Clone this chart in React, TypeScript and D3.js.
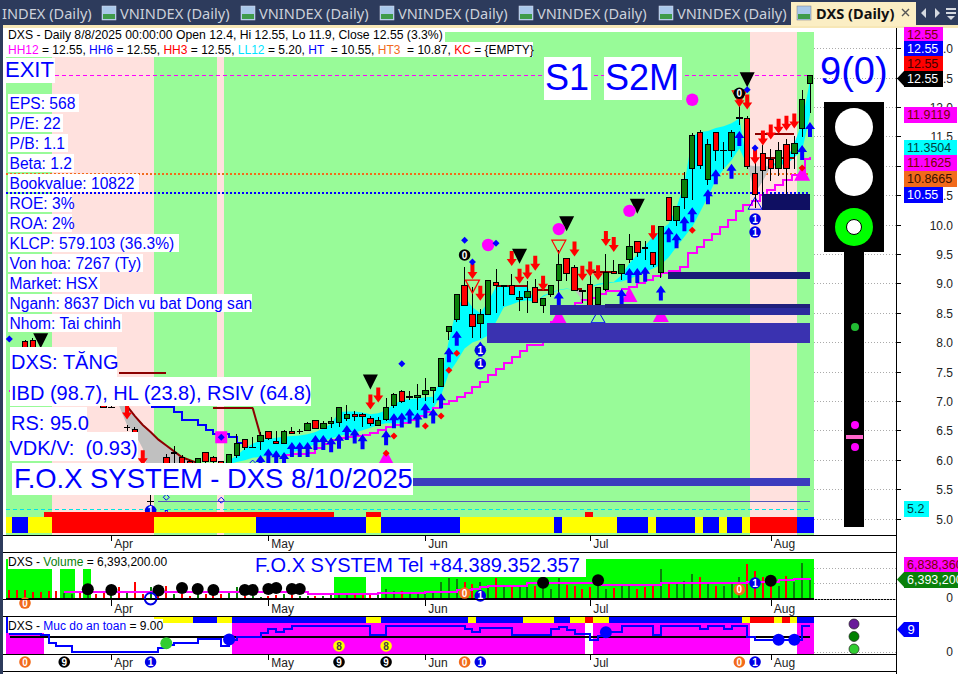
import * as d3 from "d3";
import React from "react";

const FONT = "Liberation Sans, Arial, sans-serif";
const WIDTH = 958;
const HEIGHT = 674;

// price candles, bar 0 .. 100
const opens = [8.02,8.04,7.8,7.5,7.4,7.2,7.35,7.45,7.25,7.3,7.1,6.9,6.95,6.56,6.52,5.9,5.3,5.9,6.04,6.13,6.04,5.97,5.95,6.13,6.05,5.97,5.95,6.08,6.36,6.22,6.32,6.49,6.32,6.29,6.49,6.49,6.5,6.68,6.54,6.62,6.64,6.71,6.78,6.77,6.71,6.59,6.7,6.93,7.17,7.06,7.07,7.11,7.18,7.25,8.19,8.39,8.97,8.48,8.33,8.48,9.03,8.97,8.97,8.73,8.77,8.93,8.63,8.82,9.05,9.43,9.28,8.89,8.99,8.65,8.91,9.21,9.18,9.42,9.72,9.62,9.54,9.19,10.47,10.07,10.47,10.96,11.58,10.77,11.58,11.27,11.26,11.82,11.81,10.88,11.22,11.12,10.96,11.37,11.21,11.64,12.4];
const highs = [8.05,8.08,7.85,7.6,7.5,7.45,7.5,7.5,7.4,7.35,7.15,6.92,6.97,6.6,6.56,5.93,5.5,5.93,6.1,6.25,6.08,6.0,6.03,6.13,6.07,5.99,6.09,6.45,6.36,6.4,6.48,6.49,6.49,6.52,6.56,6.53,6.65,6.68,6.66,6.74,6.91,6.94,6.83,6.8,6.76,6.74,7.05,7.15,7.2,7.17,7.3,7.39,7.24,7.73,8.28,8.83,9.29,8.95,8.57,9.05,9.25,8.97,9.16,8.87,9.04,9.08,8.75,8.97,9.57,9.43,9.32,8.89,9.2,8.93,9.5,9.4,9.33,9.85,9.72,9.72,9.54,9.98,10.47,10.32,10.9,11.56,11.62,11.46,11.58,11.42,11.62,12.18,11.85,11.15,11.36,11.3,11.42,11.46,11.51,12.3,12.55];
const lows = [7.5,7.6,7.4,7.3,7.2,7.1,7.2,7.2,7.15,7.05,6.93,6.88,6.93,6.5,6.3,5.6,5.2,5.45,5.75,5.9,5.85,5.7,5.85,5.85,5.85,5.85,5.8,6.03,6.17,6.22,6.17,6.35,6.29,6.29,6.45,6.45,6.49,6.54,6.54,6.54,6.57,6.66,6.66,6.57,6.58,6.59,6.66,6.88,6.97,7.02,6.85,7.0,6.97,7.25,8.04,8.35,8.63,8.07,8.07,8.48,8.5,8.63,8.82,8.54,8.5,8.67,8.5,8.78,8.72,9.04,8.89,8.67,8.61,8.61,8.87,9.17,9.07,9.35,9.45,9.4,9.28,9.1,10.07,9.98,10.27,10.43,10.96,10.68,11.08,10.96,11.16,11.7,10.95,10.29,10.53,10.74,10.83,10.53,10.96,11.49,11.9];
const closes = [7.7,7.8,7.5,7.35,7.3,7.4,7.45,7.3,7.35,7.1,6.9,6.9,6.94,6.56,6.38,5.65,5.3,5.5,5.8,6.13,5.95,5.8,6.03,5.97,5.97,5.89,6.09,6.29,6.22,6.22,6.42,6.37,6.29,6.49,6.46,6.49,6.62,6.54,6.62,6.65,6.9,6.78,6.75,6.75,6.63,6.68,6.9,7.11,7.0,7.09,7.1,7.18,7.24,7.73,8.27,8.82,8.63,8.27,8.48,9.05,8.97,8.97,8.82,8.77,8.87,8.69,8.75,8.97,9.33,9.18,8.89,8.87,8.63,8.93,9.2,9.17,9.33,9.63,9.54,9.6,9.32,9.98,10.07,10.32,10.78,11.52,11.01,11.37,11.26,11.27,11.58,11.82,11.0,10.52,10.92,10.96,11.27,10.96,11.38,12.13,12.55];

// the two envelope lines, bar 12 .. 100 (cyan where upper is above, grey where it is below)
const bandFirstBar = 12;
const bandUpper = [6.92,6.6,6.45,6.2,5.6,5.4,5.5,5.6,5.7,5.8,5.88,5.9,5.9,5.92,6.0,6.08,6.2,6.28,6.34,6.36,6.38,6.4,6.41,6.42,6.44,6.48,6.54,6.62,6.82,6.83,6.83,6.81,6.78,6.8,6.85,6.95,7.02,7.04,7.05,7.07,7.08,7.4,8.04,8.6,8.78,8.6,8.5,8.7,8.95,8.97,8.97,8.97,8.95,8.68,8.8,8.85,8.9,8.92,8.9,8.72,8.95,9.0,9.02,9.03,9.15,9.35,9.5,9.65,9.8,9.92,10.02,10.3,10.7,11.5,11.58,11.6,11.65,11.68,11.73,11.81,11.02,10.55,10.75,11.0,11.1,11.12,11.38,11.75,12.46];
const bandLower = [6.92,6.92,6.75,6.6,6.48,6.35,6.25,6.15,6.05,6.0,5.95,5.92,5.9,5.92,5.93,5.97,6.0,6.04,6.06,6.07,6.08,6.09,6.13,6.17,6.22,6.27,6.33,6.37,6.41,6.44,6.47,6.51,6.55,6.6,6.63,6.63,6.63,6.66,6.72,6.8,6.88,7.1,7.48,7.68,7.9,8.0,8.05,8.12,8.35,8.6,8.65,8.7,8.72,8.68,8.78,8.84,8.89,8.91,8.9,8.9,8.94,8.98,9.0,9.02,9.04,9.08,9.14,9.2,9.26,9.32,9.45,9.63,9.8,9.97,10.22,10.48,10.77,10.95,11.1,11.3,11.02,11.0,11.0,11.0,11.03,11.03,11.15,11.27,11.87];

const stairBars = [33,34,36,37,38,39,40,41,42,43,44,45,46,47,48,49,50,51,52,53,54,55,56,57,58,59,60,61,62,63,64,66,67,68,69,70,71,72,73,74,76,77,78,79,80,81,82,83.4,84.5,85.6,86.5,87.5,88.5,89.5,90.6,91.5,92.6,93.6,94.5,95.5,96.6,97.7,99.4,100];
const stairValues = [6.09,6.11,6.13,6.2,6.28,6.34,6.37,6.4,6.42,6.43,6.47,6.52,6.56,6.6,6.64,6.68,6.75,6.82,6.89,6.95,7.0,7.07,7.15,7.25,7.33,7.45,7.55,7.65,7.75,7.85,7.96,8.2,8.35,8.5,8.6,8.67,8.72,8.76,8.82,8.87,8.91,8.95,9.02,9.07,9.13,9.18,9.21,9.29,9.52,9.63,9.75,9.85,9.96,10.09,10.23,10.34,10.41,10.51,10.6,10.68,10.77,10.85,11.13,11.16];
const blueStairBars = [16,19,20,22,23,24,26,27,28];
const blueStairValues = [6.9,6.82,6.68,6.6,6.51,6.44,6.39,6.29,6.29];

const resistFrom = [12,24,60,65,70,72,93,94];
const resistTo = [18,29,64,67,71,75,98,98];
const resistValues = [7.48,6.89,8.96,8.89,8.91,9.2,11.55,11.14];
const resistDropBars = [29,30];
const resistDropValues = [6.89,6.42];

const zoneFrom = [81.9,66.9,73.9,58.9,93.9,40];
const zoneTop = [9.2,8.64,8.66,8.33,10.53,5.7];
const zoneBottom = [9.08,8.47,8.59,7.99,10.26,5.56];
const zoneColors = ["#1a1a78","#2b2b9d","#20207c","#3a32b0","#0f0f62","#3c3cbe"];

const blueUpBars = [30,31,32,33,34,35,36,37,38,39,40,41,42,43,46,47,48,49,50,51,52,53,54,55,58,68,76,77,78,79,81,82,83,84,85,87,88,90,91,99,100];
const blueUpTips = [6.09,6.2,6.17,6.14,6.31,6.31,6.31,6.43,6.43,6.39,6.45,6.6,6.54,6.44,6.51,6.8,6.81,6.88,6.81,6.97,6.88,7.14,7.92,8.2,8.02,8.87,8.91,9.27,9.27,9.29,8.97,9.96,9.86,10.15,10.3,10.61,10.95,11.04,11.6,11.36,11.75];
const redDownBars = [13,15,44,45,57,58,62,63,64,65,66,70,71,72,73,74,75,80,91,92,93,94,95,96,97,98];
const redDownCentres = [6.82,6.04,6.99,7.11,9.21,8.84,9.43,9.13,9.2,9.35,9.01,9.59,9.18,9.25,9.19,9.77,9.67,9.87,12.13,12.09,11.16,11.48,11.58,11.68,11.73,11.77];
const blackTriBars = [2,44,63,69,78,92];
const blackTriValues = [8.03,7.33,9.47,10.02,10.32,12.47];
const redTriBars = [57,68,91];
const redTriValues = [8.96,9.64,12.18];
const pinkTriBars = [46,68,77,81,99];
const pinkTriValues = [6.04,8.44,8.81,8.47,10.87];
const outlineTriBars = [73,93];
const outlineTriValues = [8.44,10.37];
const pinkDotBars = [59,68,77,85];
const pinkDotValues = [9.66,9.93,10.24,12.13];
const blueDiamondBars = [56,57,60,48,-2,93,92,25];
const blueDiamondValues = [9.74,9.37,9.69,7.64,8.06,11.31,12.3,6.39];
const redDiamondBars = [54,55,53,51,47,46,85,99];
const redDiamondValues = [7.53,7.82,6.75,6.58,6.41,6.12,9.91,10.97];
const hollowDiamondBars = [18,25,29];
const hollowDiamondValues = [5.37,5.32,5.95];
const priceBadgeBars = [58,58,93,93,16,56,91];
const priceBadgeValues = [7.87,7.64,10.1,9.88,5.14,9.49,12.24];
const priceBadgeLabels = ["1","1","1","1","1","0","0"];

const priceTicks = [5,5.5,6,6.5,7,7.5,8,8.5,9,9.5,10,10.5,11,11.5,12,12.5,13];
const monthLabels = ["Apr","May","Jun","Jul","Aug"];
const monthBars = [11,31,51,72,95];

// background state, first bar of every run
const pinkFrom = [4,25,93];
const pinkTo = [16,25,98];
const stripFirst = [-2,-1,1,4,17,30,44,46,56,68,69,76,80,81,86,87,89,90,92,93,99];
const stripKind = "YBYRYBYBYBYBYBYBYBYRB";
const redTopFrom = [3,44,72];
const redTopTo = [39,45,72];

// volume panel, bar -2 .. 100, millions
const volumes = [2.9,2.9,2.9,2.3,2.3,2.7,2.7,1.9,1.6,2.1,2.1,1.6,2.1,1.6,3.7,2.7,5.3,1.6,3.7,2.7,4.3,1.6,1.6,1.1,1.6,1.6,1.6,1.6,2.1,3.7,0.9,0.9,0.5,1.1,1.3,1.6,1.3,1.1,0.9,1.1,1.1,1.6,1.6,1.6,1.6,1.6,1.6,1.6,3.2,2.7,2.7,1.9,2.1,2.7,2.7,5.3,6.6,6.4,5.3,4.8,5.3,4.3,6.8,4.3,4.3,3.7,3.7,4.3,5.9,3.2,6.8,4.5,4.3,3.2,3.7,6.4,3.2,3.6,4.3,4.3,3.2,3.7,4.8,9.6,5.3,4.8,5.9,8,6.9,4.8,4.3,4.3,4.8,6.9,11.2,8.8,6.9,4.8,4.3,7.2,5.3,11.5,6.39];
const volMaBars = [5,36,45,51,55,57,58,59,64,73,81,86,92,96,98,100];
const volMaValues = [2.1,1.7,1.8,2.1,2.9,3.2,3.7,4.2,5,4.4,5.1,5.1,5.4,6,6.5,6.84];
const volBgFrom = [-2,5,8,40,46];
const volBgTo = [3,6,8,43,100];
const volDotBars = [8,11,17,20,22,24,28,29,31,32,34,35,66,73,95];
const volDotValues = [3.1,2.9,2.7,3.5,3.2,2.9,2.9,2.9,3.2,3.5,3.2,3.2,5.2,6,5.8];
const volBadgeBars = [0,16,56,58,91,93];
const volBadgeValues = [-1.3,0.1,1.9,1,3,5.1];
const volBadgeLabels = ["0","1","0","1","0","1"];
const volBadgeKinds = "OHOBOB";

// safety panel
const safetyBars = [-2,2,3,4,6,17,18,19,22,25,26,27,30,31,32,33,34,44,46,56,57,58,62,67,68,69,70,72,73,74,76,80,81,86,87,89,90,92,93,99,100];
const safetyValues = [6.4,5.9,3.1,2.2,0.2,1.4,2.5,3.1,4.5,2.2,4.3,5.1,6.5,8.1,7.1,8,9.1,5.9,9.1,8,6.85,8.2,6,7.9,8.8,7.7,6.2,4.3,5.6,6.8,9.05,6,9.05,7.9,9.05,7.9,9.05,5.4,4.3,9.05,9.05];
const safeTopFirst = [17,22,25,27,44,46,57,58,64,68,70,72,73,75,92,93,96,97,98,99];
const safeTopKind = "YBYBYBYBYBYRYBYRYRYB";
const safeFillFrom = [-2,27,73,99];
const safeFillTo = [2,71,92,100];
const safeDotBars = [18,26,74,96,98];
const safeDotValues = [3.1,4.4,6.9,4.3,4.3];
const safeDotColors = ["#32cd32","#0000ff","#0000ff","#0000ff","#0000ff"];
const safeRowBars = [0,5,16,40,46,56,58,91,93];
const safeRowLabels = ["0","9","1","9","9","0","1","0","1"];
const safeRowKinds = "OKBKKOBOB";
const safeEightBars = [40,46];

const infoLines = ["EPS: 568","P/E: 22","P/B: 1.1","Beta: 1.2","Bookvalue: 10822","ROE: 3%","ROA: 2%","KLCP: 579.103 (36.3%)","Von hoa: 7267 (Ty)","Market: HSX","Nganh: 8637 Dich vu bat Dong san","Nhom: Tai chinh"];
const infoWidths = [71,55,60,66,131,64,64,171,135,92,244,114];
const tabLabels = ["VNINDEX (Daily)","VNINDEX (Daily)","VNINDEX (Daily)","VNINDEX (Daily)","VNINDEX (Daily)"];
const tabStarts = [120,259,398,537,677];

const x = d3.scaleLinear().domain([0, 100]).range([25, 810]);
const y = d3.scaleLinear().domain([5, 12.5]).range([519, 78]);
const yVol = d3.scaleLinear().domain([0, 15]).range([599, 552]);
const ySafe = d3.scaleLinear().domain([0, 9]).range([652.3, 626]);

const BLUE = "#0000ff";
const GREEN = "#0a800a";
const RED = "#ff0000";
const PINK = "#ff00ff";
const badgeFill: Record<string, string> = { O: "#f26a1b", B: "#0000e6", K: "#000000", H: "#ffffff" };
const stripFill: Record<string, string> = { Y: "#ffff00", B: "#0000ff", R: "#ff0000" };

const cellLeft = (bar: number) => Math.max(6, x(bar - 0.6));
const cellRight = (bar: number) => Math.min(814, x(bar + 0.4 + (bar === 100 ? 0.1 : 0)));

const Strip = ({ first, kinds, top, bottom }: { first: number[]; kinds: string; top: number; bottom: number }) => (
  <g shapeRendering="crispEdges">
    {first.map((bar, i) => {
      const last = i + 1 < first.length ? first[i + 1] - 1 : 100;
      return <rect key={i} x={cellLeft(bar)} y={top} width={cellRight(last) - cellLeft(bar)} height={bottom - top} fill={stripFill[kinds[i]]} />;
    })}
  </g>
);

const Badge = ({ cx, cy, label, kind }: { cx: number; cy: number; label: string; kind: string }) => {
  const hollow = kind === "H";
  return (
    <g>
      <circle cx={cx} cy={cy} r={5.8} fill={hollow ? "none" : badgeFill[kind]} stroke={hollow ? "#0000e6" : "none"} strokeWidth={2} />
      {!hollow && <text x={cx} y={cy + 3.6} textAnchor="middle" fontFamily={FONT} fontSize={10} fontWeight="bold" fill="#fff">{label}</text>}
    </g>
  );
};

const Box = ({ left, top, w, h, baseline, size, text, tx }: { left: number; top: number; w: number; h: number; baseline: number; size: number; text: string; tx?: number }) => (
  <g>
    <rect x={left} y={top} width={w} height={h} fill="#fff" shapeRendering="crispEdges" />
    <text x={tx ?? left + 1} y={baseline} fontFamily={FONT} fontSize={size} fill={BLUE} xmlSpace="preserve">{text}</text>
  </g>
);

const Tag = ({ top, w, fill, color, text, pointer }: { top: number; w: number; fill: string; color: string; text: string; pointer?: boolean }) => (
  <g>
    {pointer && <path d={`M897,${top + 7.5}L904,${top}V${top + 15}Z`} fill={fill} />}
    <rect x={904} y={top} width={w} height={15.5} fill={fill} shapeRendering="crispEdges" />
    <text x={907} y={top + 12} fontFamily={FONT} fontSize={12.5} fill={color}>{text}</text>
  </g>
);

export default function App() {
  const bars = d3.range(opens.length);
  const bandBars = d3.range(bandUpper.length);
  const bandX = (i: number) => x(i + bandFirstBar);

  const cyanArea = d3.area<number>().defined((i) => bandUpper[i] >= bandLower[i]).x(bandX).y0((i) => y(bandLower[i])).y1((i) => y(bandUpper[i]));
  const greyArea = d3.area<number>().defined((i) => bandUpper[i] <= bandLower[i]).x(bandX).y0((i) => y(bandLower[i])).y1((i) => y(bandUpper[i]));
  const greyEdge = d3.line<number>().x(bandX).y((i) => y(bandLower[i]));

  const stair = d3.line<number>().curve(d3.curveStepAfter);
  const stairPath = (xs: number[], ys: number[], sx: (v: number) => number) =>
    stair.x((_, i) => x(xs[i])).y((_, i) => sx(ys[i]))(xs.map((_, i) => i));

  const volBars = volumes.map((v, i) => ({ bar: i - 2, v }));

  return (
    <svg width={WIDTH} height={HEIGHT} style={{ position: "absolute", left: 0, top: 0, background: "#fff" }}>
      {/* tab bar */}
      <rect x={0} y={0} width={WIDTH} height={25} fill="#2d3b5c" />
      <rect x={3} y={25} width={WIDTH - 3} height={3} fill="#f7e7b6" />
      <rect x={0} y={25} width={3} height={HEIGHT - 25} fill="#2d3b5c" />
      <text x={2} y={19} fontFamily="Noto Sans" fontSize={14.6} fill="#ccd1da">INDEX (Daily)</text>
      {tabStarts.map((s, i) => (
        <g key={i}>
          <rect x={s - 18} y={6} width={14} height={14} fill="#a9c8ea" stroke="#dde" strokeWidth={0.5} />
          <rect x={s - 17} y={14} width={12} height={5} fill="#3f9b4a" />
          <text x={s} y={19} fontFamily="Noto Sans" fontSize={14.6} fill="#ccd1da">{tabLabels[i]}</text>
        </g>
      ))}
      <rect x={791} y={2} width={125} height={24} fill="#fbeec4" />
      <rect x={797} y={6} width={14} height={14} fill="#a9c8ea" stroke="#778" strokeWidth={0.5} />
      <rect x={798} y={14} width={12} height={5} fill="#3f9b4a" />
      <text x={816} y={19} fontFamily="Noto Sans" fontSize={14.6} fontWeight="bold" fill="#111">DXS (Daily)</text>
      <path d="M902,9l7,7M909,9l-7,7" stroke="#555" strokeWidth={1.4} />
      <path d="M926,8v10l-5,-5ZM935,8v10l5,-5Z" fill="#d5d9e0" />
      <path d="M946,8h10v2h-10ZM946,12h10v2h-10ZM947,16h8l-4,4Z" fill="#d5d9e0" />

      {/* price panel background */}
      <g shapeRendering="crispEdges">
        <rect x={6} y={32} width={808} height={503} fill="#98fb98" />
        {pinkFrom.map((b, i) => (
          <rect key={i} x={cellLeft(b)} y={32} width={cellRight(pinkTo[i]) - cellLeft(b)} height={503} fill="#ffe1de" />
        ))}
      </g>

      {/* reference levels */}
      <g shapeRendering="crispEdges">
        <line x1={6} x2={810} y1={y(12.55)} y2={y(12.55)} stroke={PINK} strokeDasharray="4 3" />
        <line x1={6} x2={810} y1={y(10.87)} y2={y(10.87)} stroke="#f26a1b" strokeWidth={2} strokeDasharray="2 2" />
        <line x1={6} x2={810} y1={y(10.55)} y2={y(10.55)} stroke={BLUE} strokeWidth={2} strokeDasharray="2 2" />
        <line x1={6} x2={810} y1={y(5.17)} y2={y(5.17)} stroke="#00e5e5" strokeDasharray="4 3" />
        <line x1={x(17)} x2={810} y1={y(5.3)} y2={y(5.3)} stroke="#5555bb" />
      </g>

      {/* envelope */}
      <path d={cyanArea(bandBars) || undefined} fill="#00ffff" />
      <path d={greyArea(bandBars) || undefined} fill="#c0c0c0" />
      <path d={greyEdge(bandBars.slice(1, 12)) || undefined} fill="none" stroke="#8b0000" strokeWidth={2} />

      {/* stepped lines */}
      <g shapeRendering="crispEdges">
        <path d={stairPath(stairBars, stairValues, y) || undefined} fill="none" stroke={PINK} strokeWidth={2} />
        <path d={stairPath([-2, -1.6], [7.18, 7.18], y) || undefined} fill="none" stroke={PINK} strokeWidth={2} />
        <path d={stairPath(blueStairBars, blueStairValues, y) || undefined} fill="none" stroke={BLUE} strokeWidth={2} />
        {resistFrom.map((b, i) => (
          <line key={i} x1={x(b)} x2={x(resistTo[i])} y1={y(resistValues[i])} y2={y(resistValues[i])} stroke="#8b0000" strokeWidth={2} />
        ))}
      </g>
      <line x1={x(resistDropBars[0])} x2={x(resistDropBars[1])} y1={y(resistDropValues[0])} y2={y(resistDropValues[1])} stroke="#8b0000" strokeWidth={2} />

      {/* pink triangles sit under the supply bars */}
      {pinkTriBars.map((b, i) => (
        <path key={i} d={`M${x(b)},${y(pinkTriValues[i]) - 8}l8,15h-16Z`} fill={PINK} />
      ))}
      {outlineTriBars.map((b, i) => (
        <path key={i} d={`M${x(b)},${y(outlineTriValues[i]) - 6}l7,12h-14Z`} fill="none" stroke={BLUE} />
      ))}

      {/* candles */}
      <g shapeRendering="crispEdges">
        {bars.map((i) => {
          const up = closes[i] >= opens[i];
          const top = y(Math.max(opens[i], closes[i]));
          const bot = y(Math.min(opens[i], closes[i]));
          return (
            <g key={i}>
              <line x1={x(i)} x2={x(i)} y1={y(highs[i])} y2={y(lows[i])} stroke="#000" />
              <rect x={x(i) - 2.7} y={top} width={5.4} height={Math.max(bot - top, 0.5)} fill={up ? GREEN : RED} stroke="#000" />
            </g>
          );
        })}
      </g>

      {/* markers */}
      {blueUpBars.map((b, i) => (
        <path key={i} d={`M${x(b)},${y(blueUpTips[i])}l5,7h-3v8h-4v-8h-3Z`} fill={BLUE} />
      ))}
      {redDownBars.map((b, i) => (
        <path key={i} d={`M${x(b)},${y(redDownCentres[i]) + 7.5}l5,-7h-3v-8h-4v8h-3Z`} fill={RED} />
      ))}
      {blackTriBars.map((b, i) => (
        <path key={i} d={`M${x(b)},${y(blackTriValues[i]) + 7.5}l-7.5,-15h15Z`} fill="#000" />
      ))}
      {redTriBars.map((b, i) => (
        <path key={i} d={`M${x(b)},${y(redTriValues[i]) + 7}l-7,-13h14Z`} fill="none" stroke={RED} strokeWidth={1.2} />
      ))}
      {pinkDotBars.map((b, i) => (
        <circle key={i} cx={x(b)} cy={y(pinkDotValues[i])} r={6.2} fill={PINK} />
      ))}
      <rect x={x(25) - 6} y={y(6.39) - 6} width={12} height={12} fill={PINK} />
      {blueDiamondBars.map((b, i) => (
        <path key={i} d={`M${x(b)},${y(blueDiamondValues[i]) - 3.5}l3.5,3.5l-3.5,3.5l-3.5,-3.5Z`} fill={BLUE} />
      ))}
      {redDiamondBars.map((b, i) => (
        <path key={i} d={`M${x(b)},${y(redDiamondValues[i]) - 3.5}l3.5,3.5l-3.5,3.5l-3.5,-3.5Z`} fill={RED} />
      ))}
      {hollowDiamondBars.map((b, i) => (
        <path key={i} d={`M${x(b)},${y(hollowDiamondValues[i]) - 3}l3,3l-3,3l-3,-3Z`} fill="none" stroke={BLUE} />
      ))}
      {priceBadgeBars.map((b, i) => (
        <Badge key={i} cx={x(b)} cy={y(priceBadgeValues[i])} label={priceBadgeLabels[i]} kind={priceBadgeLabels[i] === "1" ? "B" : "K"} />
      ))}
      <path d={`M${x(18) - 6},516h12M${x(18)},510v12`} stroke={BLUE} strokeWidth={3} />
      <path d={`M${x(18) - 5},516h10M${x(18)},511v10`} stroke="#ffff66" strokeWidth={1} />

      {/* supply bars */}
      <g shapeRendering="crispEdges">
        {zoneFrom.map((b, i) => (
          <rect key={i} x={x(b)} y={y(zoneTop[i])} width={810 - x(b)} height={y(zoneBottom[i]) - y(zoneTop[i])} fill={zoneColors[i]} />
        ))}
      </g>

      {/* state strip */}
      <g shapeRendering="crispEdges">
        {redTopFrom.map((b, i) => (
          <rect key={i} x={cellLeft(b)} y={512} width={cellRight(redTopTo[i]) - cellLeft(b)} height={5} fill={RED} />
        ))}
      </g>
      <Strip first={stripFirst} kinds={stripKind} top={517} bottom={533} />

      {/* header */}
      <rect x={6} y={28} width={439} height={14} fill="#fff" />
      <rect x={6} y={42} width={527} height={15} fill="#fff" />
      <text x={8} y={39} fontFamily={FONT} fontSize={12.2} fill="#000">DXS - Daily 8/8/2025 00:00:00 Open 12.4, Hi 12.55, Lo 11.9, Close 12.55 (3.3%)</text>
      <text x={8} y={54} fontFamily={FONT} fontSize={12} fill="#000" xmlSpace="preserve">
        <tspan fill={PINK}>HH12</tspan> = 12.55, <tspan fill={BLUE}>HH6</tspan> = 12.55, <tspan fill={RED}>HH3</tspan> = 12.55, <tspan fill="#00e5ff">LL12</tspan> = 5.20, <tspan fill={BLUE}>HT </tspan> = 10.55, <tspan fill="#f26a1b">HT3 </tspan> = 10.87, <tspan fill={RED}>KC</tspan> = {"{EMPTY}"}
      </text>

      {/* text boxes */}
      <Box left={5} top={58} w={50} h={25} baseline={77} size={22} text="EXIT" tx={5} />
      {infoLines.map((t, i) => (
        <Box key={t} left={8} top={94 + i * 20} w={infoWidths[i]} h={18} baseline={109 + i * 20} size={15.6} text={t} tx={9.5} />
      ))}
      <Box left={10} top={347} w={107} h={30} baseline={369} size={20} text="DXS: TĂNG" tx={11} />
      <Box left={10} top={377} w={301} h={29} baseline={400} size={20} text="IBD (98.7), HL (23.8), RSIV (64.8)" tx={11} />
      <Box left={10} top={407} w={77} h={25} baseline={430} size={20} text="RS: 95.0" tx={11} />
      <Box left={10} top={432} w={128} h={29} baseline={455} size={20} text="VDK/V:  (0.93)" tx={9.5} />
      <Box left={12} top={463} w={401} h={32} baseline={488} size={27.4} text="F.O.X SYSTEM - DXS 8/10/2025" tx={14} />
      <Box left={544} top={57} w={47} h={43} baseline={90} size={36} text="S1" tx={545} />
      <Box left={604} top={57} w={78} h={43} baseline={90} size={36} text="S2M" tx={605} />

      {/* volume panel */}
      <g shapeRendering="crispEdges">
        {volBgFrom.map((b, i) => (
          <rect key={i} x={cellLeft(b)} y={559} width={cellRight(volBgTo[i]) - cellLeft(b)} height={40} fill="#00ff00" />
        ))}
        {volBars.map((d) => {
          const up = d.bar >= 0 && closes[d.bar] >= opens[d.bar];
          return <rect key={d.bar} x={x(d.bar) - 1} y={yVol(d.v)} width={2} height={599 - yVol(d.v)} fill={up ? GREEN : RED} />;
        })}
        <path d={stairPath(volMaBars, volMaValues, yVol) || undefined} fill="none" stroke={PINK} strokeWidth={2} />
        <line x1={6} x2={814} y1={599} y2={599} stroke="#000" strokeWidth={2} />
      </g>
      {volDotBars.map((b, i) => (
        <circle key={i} cx={x(b)} cy={yVol(volDotValues[i])} r={6} fill="#000" />
      ))}
      {volBadgeBars.map((b, i) => (
        <Badge key={i} cx={x(b)} cy={yVol(volBadgeValues[i])} label={volBadgeLabels[i]} kind={volBadgeKinds[i]} />
      ))}
      <rect x={8} y={555} width={161} height={14} fill="#fff" />
      <text x={8} y={566} fontFamily={FONT} fontSize={12} xmlSpace="preserve">DXS - <tspan fill={GREEN}>Volume</tspan> = 6,393,200.00</text>
      <Box left={252} top={554} w={334} h={23} baseline={572} size={20} text="F.O.X SYSTEM Tel +84.389.352.357" tx={255} />

      {/* safety panel */}
      <g shapeRendering="crispEdges">
        {safeFillFrom.map((b, i) => (
          <rect key={i} x={cellLeft(b)} y={623} width={cellRight(safeFillTo[i]) - cellLeft(b)} height={31} fill={PINK} />
        ))}
      </g>
      <Strip first={safeTopFirst} kinds={safeTopKind} top={616} bottom={623} />
      <g shapeRendering="crispEdges">
        <line x1={10} x2={810} y1={636.7} y2={636.7} stroke="#000" strokeWidth={2} />
        <path d={stairPath(safetyBars, safetyValues, ySafe) || undefined} fill="none" stroke={BLUE} strokeWidth={2} />
      </g>
      {safeDotBars.map((b, i) => (
        <circle key={i} cx={x(b)} cy={ySafe(safeDotValues[i])} r={6} fill={safeDotColors[i]} />
      ))}
      {safeEightBars.map((b) => (
        <g key={b}>
          <circle cx={x(b)} cy={646} r={5.8} fill="#ffff00" />
          <text x={x(b)} y={649.6} textAnchor="middle" fontFamily={FONT} fontSize={10} fontWeight="bold" fill="#444">8</text>
        </g>
      ))}
      <rect x={6} y={617} width={2} height={16} fill={BLUE} />
      <rect x={8} y={619} width={155} height={14} fill="#fff" />
      <text x={8} y={630} fontFamily={FONT} fontSize={12} xmlSpace="preserve">DXS - <tspan fill={BLUE}>Muc do an toan</tspan> = 9.00</text>
      {safeRowBars.map((b, i) => (
        <Badge key={i} cx={x(b)} cy={662} label={safeRowLabels[i]} kind={safeRowKinds[i]} />
      ))}

      {/* frame and month axes */}
      {[535, 552, 599.5, 616, 654, 671].map((v) => (
        <line key={v} x1={3} x2={896} y1={v} y2={v} stroke="#000" shapeRendering="crispEdges" />
      ))}
      <line x1={896.5} x2={896.5} y1={28} y2={HEIGHT} stroke="#000" shapeRendering="crispEdges" />
      {[535, 599.5, 654].map((top) =>
        monthBars.map((b, i) => (
          <g key={`${top}-${b}`}>
            <line x1={Math.round(x(b)) + 0.5} x2={Math.round(x(b)) + 0.5} y1={top} y2={top + 6} stroke="#000" shapeRendering="crispEdges" />
            <text x={x(b) + 3} y={top + 13} fontFamily={FONT} fontSize={12} fill="#222">{monthLabels[i]}</text>
          </g>
        ))
      )}

      {/* right axis */}
      {priceTicks.map((t) => (
        <g key={t} shapeRendering="crispEdges">
          <line x1={814} x2={896} y1={y(t)} y2={y(t)} stroke="#aaa" strokeDasharray="1 2" />
          <line x1={896} x2={901} y1={y(t)} y2={y(t)} stroke="#000" />
          <text x={953} y={y(t) + 4.5} textAnchor="end" fontFamily={FONT} fontSize={12} fill="#222">{t.toFixed(1)}</text>
        </g>
      ))}
      {[9.6, 5.1, 0].map((v) => (
        <line key={v} x1={814} x2={896} y1={yVol(v)} y2={yVol(v)} stroke="#aaa" strokeDasharray="1 2" shapeRendering="crispEdges" />
      ))}
      <line x1={814} x2={896} y1={652.3} y2={652.3} stroke="#aaa" strokeDasharray="1 2" shapeRendering="crispEdges" />
      <text x={953} y={602} textAnchor="end" fontFamily={FONT} fontSize={12} fill="#222">0</text>
      <text x={953} y={656} textAnchor="end" fontFamily={FONT} fontSize={12} fill="#222">0</text>

      <Tag top={27} w={39} fill={PINK} color="#7a0000" text="12.55" />
      <Tag top={41} w={39} fill={BLUE} color="#fff" text="12.55" />
      <Tag top={56} w={39} fill={RED} color="#400000" text="12.55" />
      <Tag top={71} w={39} fill="#000" color="#fff" text="12.55" pointer />
      <Tag top={107} w={53} fill={PINK} color="#7a0000" text="11.9119" />
      <Tag top={140} w={53} fill="#00ffff" color="#004040" text="11.3504" />
      <Tag top={155} w={53} fill={PINK} color="#7a0000" text="11.1625" />
      <Tag top={171} w={53} fill="#f26a1b" color="#3a1000" text="10.8665" />
      <Tag top={187} w={39} fill={BLUE} color="#fff" text="10.55" />
      <Tag top={501} w={25} fill="#00ffff" color="#004040" text="5.2" />
      <Tag top={557} w={54} fill={PINK} color="#7a0000" text="6,838,360" />
      <Tag top={572} w={54} fill={GREEN} color="#fff" text="6,393,200" pointer />
      <path d="M897,629.5L904,622V637Z" fill={BLUE} />
      <rect x={904} y={622} width={15} height={15} fill={BLUE} />
      <text x={911} y={634} textAnchor="middle" fontFamily={FONT} fontSize={13} fill="#fff">9</text>

      {/* traffic light */}
      <text x={820} y={84} fontFamily={FONT} fontSize={38} fill={BLUE}>9(0)</text>
      <rect x={824} y={102} width={60} height={150} fill="#000" />
      <rect x={844} y={252} width={20} height={275} fill="#000" />
      <circle cx={854} cy={127} r={19} fill="#fff" />
      <circle cx={854} cy={177} r={19} fill="#fff" />
      <circle cx={854} cy={227} r={19} fill="#00ff00" />
      <circle cx={854} cy={227} r={7.5} fill="#fff" stroke="#000" strokeWidth={1} />
      <circle cx={855} cy={327} r={4} fill="#22bb33" />
      <circle cx={855} cy={425} r={4} fill={PINK} />
      <rect x={846} y={435} width={17} height={4} fill="#ff66cc" />
      <circle cx={855} cy={447} r={4} fill={PINK} />
      <circle cx={854} cy={624} r={5} fill="#6a1b9a" stroke="#222" strokeWidth={0.7} />
      <circle cx={854} cy={636.5} r={5} fill="#008000" stroke="#222" strokeWidth={0.7} />
      <circle cx={854} cy={649} r={5} fill="#32cd32" stroke="#222" strokeWidth={0.7} />
    </svg>
  );
}
